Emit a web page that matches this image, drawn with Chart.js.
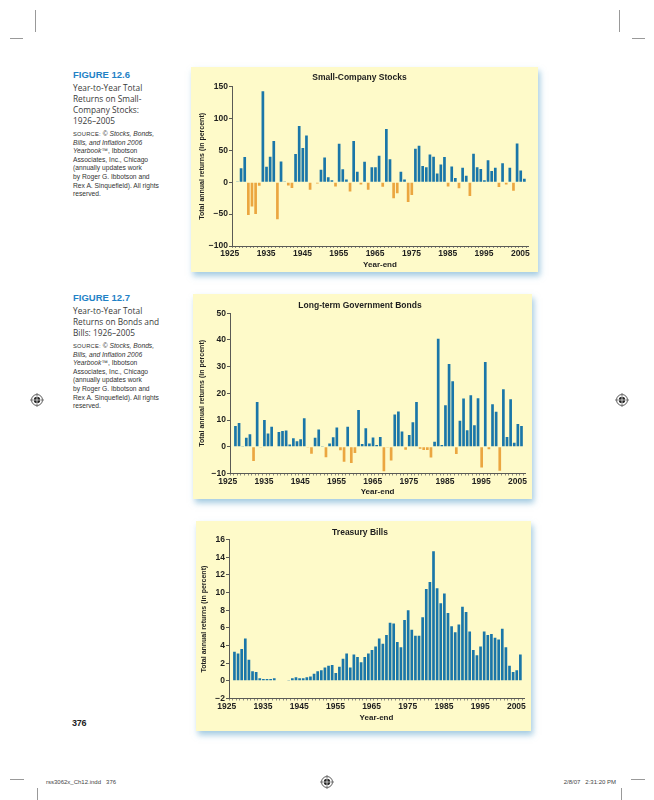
<!DOCTYPE html>
<html>
<head>
<meta charset="utf-8">
<script src="https://cdn.jsdelivr.net/npm/chart.js@4.4.0/dist/chart.umd.min.js"></script>
<style>
  body { margin: 0; width: 654px; height: 800px; background: #fff; position: relative; overflow: hidden; }
  .panel { position: absolute; background: #fefac9; box-shadow: 2px 4px 6px rgba(90, 160, 200, 0.55); }
  .panel canvas { display: block; }
  .fig { position: absolute; left: 73px; width: 120px; color: #3a3a3a; }
  .fig h3 { margin: 0; font: bold 9.5px/12px "Liberation Sans", sans-serif; color: #1f82c6; }
  .fig .cap { font: 8.3px/11px "Open Sans", sans-serif; margin-top: 1px; }
  .fig .src { font: 6.7px/8.6px "Liberation Sans", sans-serif; margin-top: 4px; color: #333; }
  .fig .src .sc { font-size: 5.8px; letter-spacing: 0.2px; }
  .mark { position: absolute; background: #999; }
  .foot { position: absolute; font: 6px "Liberation Sans", sans-serif; color: #444; top: 779px; }
  .pageno { position: absolute; left: 72px; top: 718px; font: bold 9px "Liberation Sans", sans-serif; color: #222; letter-spacing: -0.3px; }
  .reg { position: absolute; width: 14px; height: 14px; }
</style>
</head>
<body>

<!-- crop marks -->
<div class="mark" style="left:35px;top:10px;width:1px;height:22px"></div>
<div class="mark" style="left:10px;top:38px;width:13px;height:1px"></div>
<div class="mark" style="left:619px;top:10px;width:1px;height:22px"></div>
<div class="mark" style="left:632px;top:38px;width:13px;height:1px"></div>
<div class="mark" style="left:10px;top:779px;width:14px;height:1px"></div>
<div class="mark" style="left:631px;top:779px;width:14px;height:1px"></div>
<div class="mark" style="left:37px;top:788px;width:1px;height:12px"></div>
<div class="mark" style="left:621px;top:788px;width:1px;height:12px"></div>

<svg class="reg" style="left:30px;top:393px" viewBox="0 0 14 14"><circle cx="7" cy="7" r="5.5" fill="none" stroke="#333" stroke-width="0.8"/><circle cx="7" cy="7" r="3.2" fill="#222"/><path d="M7 0V14M0 7H14" stroke="#fff" stroke-width="0.7"/><path d="M7 0V3.5M7 10.5V14M0 7H3.5M10.5 7H14" stroke="#333" stroke-width="0.7"/></svg>
<svg class="reg" style="left:615px;top:393px" viewBox="0 0 14 14"><circle cx="7" cy="7" r="5.5" fill="none" stroke="#333" stroke-width="0.8"/><circle cx="7" cy="7" r="3.2" fill="#222"/><path d="M7 0V14M0 7H14" stroke="#fff" stroke-width="0.7"/><path d="M7 0V3.5M7 10.5V14M0 7H3.5M10.5 7H14" stroke="#333" stroke-width="0.7"/></svg>
<svg class="reg" style="left:320px;top:775px" viewBox="0 0 14 14"><circle cx="7" cy="7" r="5.5" fill="none" stroke="#333" stroke-width="0.8"/><circle cx="7" cy="7" r="3.2" fill="#222"/><path d="M7 0V14M0 7H14" stroke="#fff" stroke-width="0.7"/><path d="M7 0V3.5M7 10.5V14M0 7H3.5M10.5 7H14" stroke="#333" stroke-width="0.7"/></svg>

<div class="foot" style="left:46px">rss3062x_Ch12.indd&nbsp;&nbsp;&nbsp;376</div>
<div class="foot" style="right:38px">2/8/07&nbsp;&nbsp;&nbsp;2:31:20 PM</div>
<div class="pageno">376</div>

<!-- figure captions -->
<div class="fig" style="top:69px">
  <h3>FIGURE 12.6</h3>
  <div class="cap">Year-to-Year Total<br>Returns on Small-<br>Company Stocks:<br>1926–2005</div>
  <div class="src"><span class="sc">SOURCE:</span> © <i>Stocks, Bonds,<br>Bills, and Inflation 2006<br>Yearbook</i>™, Ibbotson<br>Associates, Inc., Chicago<br>(annually updates work<br>by Roger G. Ibbotson and<br>Rex A. Sinquefield). All rights<br>reserved.</div>
</div>
<div class="fig" style="top:292px">
  <h3>FIGURE 12.7</h3>
  <div class="cap">Year-to-Year Total<br>Returns on Bonds and<br>Bills: 1926–2005</div>
  <div class="src"><span class="sc">SOURCE:</span> © <i>Stocks, Bonds,<br>Bills, and Inflation 2006<br>Yearbook</i>™, Ibbotson<br>Associates, Inc., Chicago<br>(annually updates work<br>by Roger G. Ibbotson and<br>Rex A. Sinquefield). All rights<br>reserved.</div>
</div>

<div class="panel" style="left:191px;top:67px;width:347px;height:205px"><canvas id="smallChart" width="347" height="205"></canvas></div>
<div class="panel" style="left:193px;top:294px;width:339px;height:205px"><canvas id="bondChart" width="339" height="205"></canvas></div>
<div class="panel" style="left:196px;top:521px;width:335px;height:210px"><canvas id="billChart" width="335" height="210"></canvas></div>

<script>
// ---------- data (annual returns in percent, 1926–2005) ----------
const firstYear = 1926;

const smallStocks = [
  0.3, 22.1, 39.7, -51.4, -38.2, -49.8, -5.4, 142.9, 24.2, 40.2,
  64.8, -58.0, 32.8, 0.4, -5.2, -9.0, 44.5, 88.4, 53.7, 73.6,
  -11.6, 0.9, -2.1, 19.8, 38.8, 7.8, 3.0, -6.5, 60.6, 20.4,
  4.3, -14.6, 64.9, 16.4, -3.3, 32.1, -11.9, 23.6, 23.5, 41.8,
  -7.0, 83.6, 36.0, -25.1, -17.4, 16.5, 4.4, -30.9, -20.0, 52.8,
  57.4, 25.4, 23.5, 43.5, 39.9, 13.9, 28.0, 39.7, -6.7, 24.7,
  6.9, -9.3, 22.9, 10.2, -21.6, 44.6, 23.4, 21.0, 3.1, 34.5,
  17.6, 22.8, -7.3, 29.8, -3.6, 22.8, -13.3, 60.7, 18.4, 5.7
];

const govBonds = [
  7.8, 8.9, 0.1, 3.4, 4.7, -5.3, 16.8, -0.1, 10.0, 5.0,
  7.5, 0.2, 5.5, 5.9, 6.1, 0.9, 3.2, 2.1, 2.8, 10.7,
  -0.1, -2.6, 3.4, 6.5, 0.1, -3.9, 1.2, 3.6, 7.2, -1.3,
  -5.6, 7.5, -6.1, -2.3, 13.8, 1.0, 6.9, 1.2, 3.5, 0.7,
  3.7, -9.2, -0.3, -5.1, 12.1, 13.2, 5.7, -1.1, 4.4, 9.2,
  16.8, -0.7, -1.2, -1.2, -4.0, 1.9, 40.4, 0.7, 15.5, 31.0,
  24.5, -2.7, 9.7, 18.1, 6.2, 19.3, 8.1, 18.2, -7.8, 31.7,
  -0.9, 15.9, 13.1, -9.0, 21.5, 3.7, 17.8, 1.5, 8.5, 7.8
];

const tBills = [
  3.3, 3.1, 3.6, 4.8, 2.4, 1.1, 1.0, 0.3, 0.2, 0.2,
  0.2, 0.3, 0.0, 0.0, 0.0, 0.1, 0.3, 0.4, 0.3, 0.3,
  0.4, 0.5, 0.8, 1.1, 1.2, 1.5, 1.7, 1.8, 0.9, 1.6,
  2.5, 3.1, 1.5, 3.0, 2.7, 2.1, 2.7, 3.1, 3.5, 3.9,
  4.8, 4.2, 5.2, 6.6, 6.5, 4.4, 3.8, 6.9, 8.0, 5.8,
  5.1, 5.1, 7.2, 10.4, 11.2, 14.7, 10.5, 8.8, 9.9, 7.7,
  6.2, 5.5, 6.4, 8.4, 7.8, 5.6, 3.5, 2.9, 3.9, 5.6,
  5.2, 5.3, 4.9, 4.7, 5.9, 3.8, 1.7, 1.0, 1.2, 3.0
];

const xTickLabels = ["1925", "1935", "1945", "1955", "1965", "1975", "1985", "1995", "2005"];
const smallTicks = [-100, -50, 0, 50, 100, 150];
const bondTicks = [-10, 0, 10, 20, 30, 40, 50];
const billTicks = [-2, 0, 2, 4, 6, 8, 10, 12, 14, 16];

// ---------- style ----------
const FONT = '"Liberation Sans", Arial, sans-serif';
const INK = "#1e1e1e";
const AXIS = "#5a5a55";
const UP = "#1a76a8";
const DOWN = "#eba640";

function toPoints(values) {
  return values.map((v, i) => ({ x: firstYear + i, y: v }));
}

function drawChart(id, opts) {
  const ctx = document.getElementById(id).getContext("2d");
  const yMin = opts.ticks[0];
  const yMax = opts.ticks[opts.ticks.length - 1];

  return new Chart(ctx, {
    type: "bar",
    data: {
      datasets: [{
        data: toPoints(opts.values),
        backgroundColor: (c) => (c.raw && c.raw.y < 0 ? DOWN : UP),
        borderWidth: 0,
        barPercentage: 0.74,
        categoryPercentage: 1.0,
      }],
    },
    options: {
      responsive: false,
      animation: false,
      layout: { padding: { left: 0, right: opts.padRight, top: 0, bottom: 0 } },
      plugins: {
        legend: { display: false },
        tooltip: { enabled: false },
        title: {
          display: true,
          text: opts.title,
          color: INK,
          font: { family: FONT, size: 8.5, weight: "bold", lineHeight: 1.2 },
          padding: { top: opts.titleTop, bottom: opts.titleBottom },
        },
      },
      scales: {
        x: {
          type: "linear",
          min: 1925,
          max: 2005.5,
          afterBuildTicks: (s) => {
            s.ticks = [];
            for (let y = 1925; y <= 2005; y++) s.ticks.push({ value: y });
          },
          afterFit: (s) => { s.height = opts.xBox; },
          grid: { display: true, drawOnChartArea: false, tickLength: 2, color: "#8d8d80" },
          border: { display: true, color: AXIS, width: 1 },
          ticks: {
            autoSkip: false,
            maxRotation: 0,
            padding: 1,
            labelOffset: -4,
            color: INK,
            font: { family: FONT, size: 8.5, weight: "bold" },
            callback: (v) => (xTickLabels.includes(String(v)) ? String(v) : ""),
          },
          title: {
            display: true,
            text: "Year-end",
            color: INK,
            font: { family: FONT, size: 8, weight: "bold", lineHeight: 1.2 },
            padding: { top: 0, bottom: opts.xTitleBottom },
          },
        },
        y: {
          min: yMin,
          max: yMax,
          afterBuildTicks: (s) => { s.ticks = opts.ticks.map((v) => ({ value: v })); },
          afterFit: (s) => { s.width = opts.yBox; },
          grid: { display: true, drawOnChartArea: false, tickLength: 3, color: AXIS },
          border: { display: true, color: AXIS, width: 1 },
          ticks: {
            padding: 1,
            color: INK,
            font: { family: FONT, size: 8.5, weight: "bold" },
            callback: (v) => (v < 0 ? "\u2212" + Math.abs(v) : String(v)),
          },
          title: {
            display: true,
            text: "Total annual returns (in percent)",
            color: INK,
            font: { family: FONT, size: 7, weight: "bold", lineHeight: 1.2 },
            padding: { top: opts.yTitleTop, bottom: 0 },
          },
        },
      },
    },
  });
}

drawChart("smallChart", {
  title: "Small-Company Stocks",
  values: smallStocks,
  ticks: smallTicks,
  padRight: 10, titleTop: 5.5, titleBottom: 4,
  xBox: 26, xTitleBottom: 2, yBox: 41, yTitleTop: 7,
});

drawChart("bondChart", {
  title: "Long-term Government Bonds",
  values: govBonds,
  ticks: bondTicks,
  padRight: 5, titleTop: 6.5, titleBottom: 2.5,
  xBox: 25.5, xTitleBottom: 2, yBox: 37, yTitleTop: 5,
});

drawChart("billChart", {
  title: "Treasury Bills",
  values: tBills,
  ticks: billTicks,
  padRight: 7, titleTop: 6.5, titleBottom: 2,
  xBox: 32.5, xTitleBottom: 8, yBox: 33, yTitleTop: 4,
});
</script>
</body>
</html>
